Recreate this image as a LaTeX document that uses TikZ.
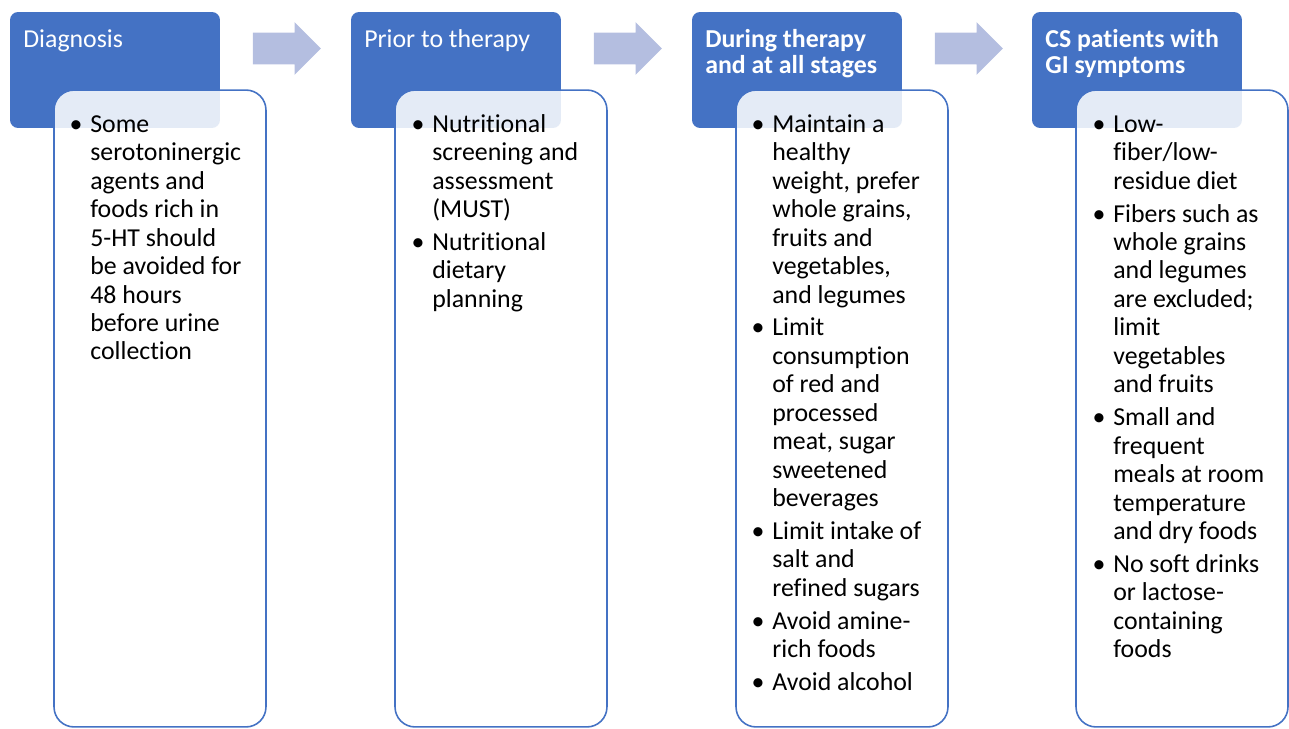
\documentclass[tikz,border=0pt]{standalone}
\usepackage{fontspec}
\setmainfont{Carlito}[Ligatures=NoCommon]
\usetikzlibrary{shapes.arrows}

\definecolor{hdrblue}{RGB}{68,114,196}
\definecolor{arrowblue}{RGB}{180,190,224}
\newcommand{\itm}{\rule{0pt}{12pt}\llap{\textbullet\hspace{4.5pt}}}
\newcommand{\fst}{\rule{0pt}{12pt}}

\tikzset{
  header/.style={rectangle,rounded corners=0.16cm,fill=hdrblue,
    minimum width=4.2cm,minimum height=2.32cm,inner sep=0pt},
  panel/.style={rectangle,rounded corners=0.4cm,draw=hdrblue,line width=0.9pt,
    fill=white,fill opacity=0.86,minimum width=4.24cm,minimum height=12.74cm,inner sep=0pt},
  steparrow/.style={single arrow,fill=arrowblue,minimum height=1.36cm,
    minimum width=1.04cm,single arrow head extend=0.21cm,inner xsep=0pt,inner ysep=0.31cm},
  htext/.style={anchor=north west,text=white,align=left,inner sep=0pt,
    font=\fontsize{14.7}{15}\selectfont},
  btext/.style={anchor=north west,align=left,inner sep=0pt,
    font=\fontsize{14.7}{16.2}\selectfont}
}

\begin{document}
\begin{tikzpicture}[x=0.02cm,y=-0.02cm]

        \useasboundingbox (0,0) rectangle (1289,729);

        % headers
        \node[header] (h1) at (115,70)  {};
        \node[header] (h2) at (456,70)  {};
        \node[header] (h3) at (797,70)  {};
        \node[header] (h4) at (1137,70) {};

        \node[htext] (ht1) at (23,25.8)   {\fst Diagnosis};
        \node[htext] (ht2) at (364,25.8)  {\fst Prior to therapy};
        \node[htext] (ht3) at (705,25.8)  {\fst\bfseries During therapy\\\bfseries and at all stages};
        \node[htext] (ht4) at (1045,25.8) {\fst\bfseries CS patients with\\\bfseries GI symptoms};

        % panels
        \node[panel] (b1) at (160,408.5)  {};
        \node[panel] (b2) at (501,408.5)  {};
        \node[panel] (b3) at (842,408.5)  {};
        \node[panel] (b4) at (1182,408.5) {};

        % arrows
        \node[steparrow] (a1) at (279,48.5) {};
        \node[steparrow] (a2) at (620,48.5) {};
        \node[steparrow] (a3) at (961,48.5) {};

        % panel texts
        \node[btext] (t1) at (90,110.8) {\itm Some\\serotoninergic\\agents and\\foods rich in\\
          5-HT should\\be avoided for\\48 hours\\before urine\\collection};

        \node[btext] (t2) at (432,110.8) {\itm Nutritional\\screening and\\assessment\\(MUST)\\[2.5pt]
          \itm Nutritional\\dietary\\planning};

        \node[btext] (t3) at (772,110.8) {\itm Maintain a\\healthy\\weight, prefer\\whole grains,\\
          fruits and\\vegetables,\\and legumes\\[2.5pt]
          \itm Limit\\consumption\\of red and\\processed\\meat, sugar\\sweetened\\beverages\\[2.5pt]
          \itm Limit intake of\\salt and\\refined sugars\\[2.5pt]
          \itm Avoid amine-\\rich foods\\[2.5pt]
          \itm Avoid alcohol};

        \node[btext] (t4) at (1113,110.8) {\itm Low-\\fiber/low-\\residue diet\\[2.5pt]
          \itm Fibers such as\\whole grains\\and legumes\\are excluded;\\limit\\vegetables\\and fruits\\[2.5pt]
          \itm Small and\\frequent\\meals at room\\temperature\\and dry foods\\[2.5pt]
          \itm No soft drinks\\or lactose-\\containing\\foods};

      \end{tikzpicture}
\end{document}
